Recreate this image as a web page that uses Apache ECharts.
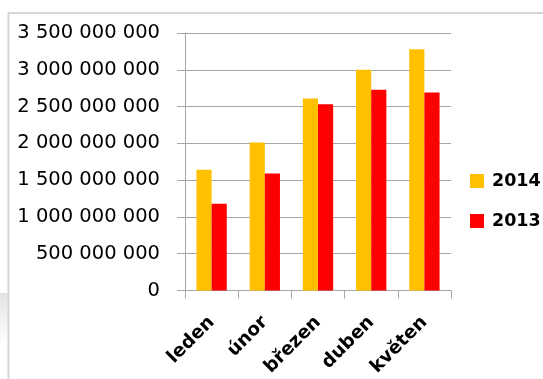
<!DOCTYPE html>
<html><head><meta charset="utf-8">
<script src="https://cdn.jsdelivr.net/npm/echarts@6/dist/echarts.min.js"></script>
<style>html,body{margin:0;padding:0;background:#fff}#c{width:543px;height:379px}</style>
</head><body><div id="c"></div>
<script>
const categories = ['leden', 'únor', 'březen', 'duben', 'květen'];
const seriesNames = ['2014', '2013'];
const values2014 = [1640000000, 2010000000, 2610000000, 3000000000, 3280000000];
const values2013 = [1180000000, 1590000000, 2530000000, 2730000000, 2690000000];
const yMin = 0, yMax = 3500000000, yInterval = 500000000;

function fmt(v){ return String(v).replace(/\B(?=(\d{3})+(?!\d))/g, ' '); }

const chart = echarts.init(document.getElementById('c'));
const FONT = 'DejaVu Sans';
chart.setOption({
  animation: false,
  backgroundColor: '#fff',
  graphic: [
    {type:'rect', shape:{x:0,y:293,width:8,height:50}, style:{fill:new echarts.graphic.LinearGradient(0,0,0,1,[{offset:0,color:'#e2e2e2'},{offset:1,color:'#ffffff'}])}},
    {type:'line', shape:{x1:8.5,y1:13,x2:8.5,y2:379}, style:{stroke:'#d6d6d6', lineWidth:2}},
    {type:'line', shape:{x1:8,y1:13,x2:543,y2:13}, style:{stroke:'#d6d6d6', lineWidth:2}}
  ],
  grid: {left:185, right:92, top:33, bottom:88.5, containLabel:false},
  legend: {
    orient:'vertical', left:470, top:171, padding:0, itemWidth:14, itemHeight:14, itemGap:20,
    icon:'rect',
    textStyle:{fontFamily:FONT, fontWeight:'bold', fontSize:17.5, lineHeight:20, color:'#000', padding:[0,0,0,3]},
    data: seriesNames
  },
  xAxis: {
    type:'category', data:categories,
    axisLine:{show:true, lineStyle:{color:'#a6a6a6', width:1}},
    axisTick:{show:true, length:8, lineStyle:{color:'#a6a6a6'}},
    axisLabel:{rotate:45, margin:29, fontFamily:FONT, fontWeight:'bold', fontSize:18.5, color:'#000'}
  },
  yAxis: {
    type:'value', min:yMin, max:yMax, interval:yInterval,
    axisLine:{show:true, lineStyle:{color:'#a6a6a6', width:1}},
    axisTick:{show:true, length:8, lineStyle:{color:'#a6a6a6'}},
    splitLine:{show:true, lineStyle:{color:'#a6a6a6', width:1}},
    axisLabel:{margin:25, fontFamily:FONT, fontSize:19.5, color:'#000', formatter:fmt}
  },
  series: [
    {name:seriesNames[0], type:'bar', data:values2014, itemStyle:{color:'#FFC000'}, barGap:'0%', barCategoryGap:'43%'},
    {name:seriesNames[1], type:'bar', data:values2013, itemStyle:{color:'#FF0000'}, barGap:'0%', barCategoryGap:'43%'}
  ]
});
</script></body></html>
